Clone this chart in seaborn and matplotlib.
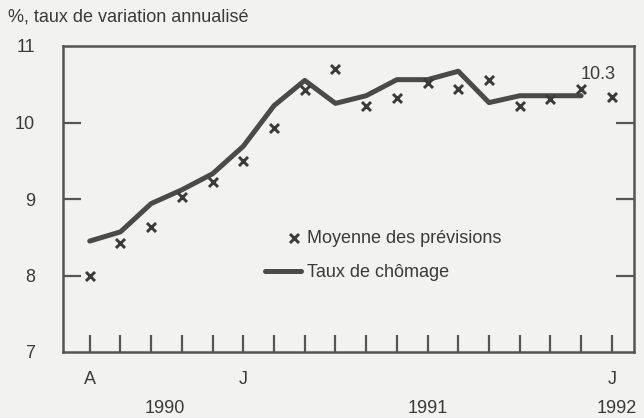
import matplotlib
matplotlib.use("Agg")
import matplotlib.pyplot as plt
import matplotlib.transforms as mtransforms
from matplotlib.legend_handler import HandlerPathCollection
import seaborn as sns
import pandas as pd

# ---- data ----
months = ["1990-08", "1990-09", "1990-10", "1990-11", "1990-12",
          "1991-01", "1991-02", "1991-03", "1991-04", "1991-05", "1991-06",
          "1991-07", "1991-08", "1991-09", "1991-10", "1991-11", "1991-12",
          "1992-01"]
taux_chomage = [8.45, 8.57, 8.94, 9.12, 9.33, 9.69, 10.22, 10.55, 10.25,
                10.35, 10.56, 10.56, 10.67, 10.26, 10.35, 10.35, 10.35]
moyenne_prev = [8.0, 8.42, 8.64, 9.02, 9.22, 9.50, 9.93, 10.42, 10.70,
                10.22, 10.32, 10.51, 10.44, 10.55, 10.22, 10.31, 10.44, 10.33]
tick_letters = ["A", "", "", "", "", "J", "", "", "", "", "", "", "", "", "", "", "", "J"]
year_labels = ["1990", "1991", "1992"]
year_pos = [2.46, 11.0, 17.15]
y_ticks = [7, 8, 9, 10, 11]
last_label = "10.3"

df_prev = pd.DataFrame({"i": range(len(moyenne_prev)), "v": moyenne_prev})
df_taux = pd.DataFrame({"i": range(len(taux_chomage)), "v": taux_chomage})

BG = "#f2f2f0"
INK = "#3a3a3a"
LINE = "#4a4a4a"
FS = 13

sns.set_theme(style="white")
plt.rcParams["font.family"] = ["Liberation Sans", "DejaVu Sans"]

fig = plt.figure(figsize=(6.44, 4.18), dpi=100, facecolor=BG)
ax = fig.add_axes([63 / 644, 1 - 352 / 418, 571 / 644, 306 / 418])
ax.set_facecolor(BG)

sns.lineplot(data=df_taux, x="i", y="v", ax=ax, color=LINE, lw=3.6,
             label="Taux de chômage", zorder=2)
sns.scatterplot(data=df_prev, x="i", y="v", ax=ax, marker="x", s=42,
                color=INK, linewidth=2.1, label="Moyenne des prévisions", zorder=3)

ax.set_xlim(-0.87, 17.72)
ax.set_ylim(7, 11)
ax.set_xlabel("")
ax.set_ylabel("")

ax.set_xticks(range(len(months)))
ax.set_xticklabels(tick_letters)
ax.set_yticks(y_ticks)
ax.set_yticklabels([str(t) for t in y_ticks])

for s in ax.spines.values():
    s.set_color("#555555")
    s.set_linewidth(1.8)

ax.tick_params(axis="x", direction="in", length=12.2, width=1.6, color="#555555",
               labelsize=FS, labelcolor=INK, pad=14, bottom=True, top=False)
ax.tick_params(axis="y", direction="in", length=13, width=1.6, color="#555555",
               labelsize=FS, labelcolor=INK, pad=20, left=True, right=True)
# hide y ticks at 7 and 11 (they coincide with spines)
for t, v in zip(ax.yaxis.get_major_ticks(), y_ticks):
    if v in (7, 11):
        t.tick1line.set_visible(False)
        t.tick2line.set_visible(False)

trans = mtransforms.blended_transform_factory(ax.transData, ax.transAxes)
for lab, xp in zip(year_labels, year_pos):
    ax.text(xp, -0.186, lab, transform=trans, ha="center", va="center",
            fontsize=FS, color=INK)

ax.text(16.54, 10.63, last_label, ha="center", va="center", fontsize=FS, color=INK)

fig.text(8 / 644, 1 - 17 / 418, "%, taux de variation annualisé", ha="left",
         va="center", fontsize=FS, color=INK)

handles, labels = ax.get_legend_handles_labels()
order = [labels.index("Moyenne des prévisions"), labels.index("Taux de chômage")]
leg = ax.legend([handles[i] for i in order], [labels[i] for i in order],
                loc="upper left", bbox_to_anchor=((265 - 63) / 571, (352 - 230) / 306),
                frameon=False, fontsize=FS, handlelength=2.0, handletextpad=0.3,
                labelspacing=0.95, borderpad=0, borderaxespad=0,
                handler_map={type(handles[order[0]]): HandlerPathCollection(xpad=1.2)})
for t in leg.get_texts():
    t.set_color(INK)

fig.savefig("out.png", dpi=100, facecolor=BG)
